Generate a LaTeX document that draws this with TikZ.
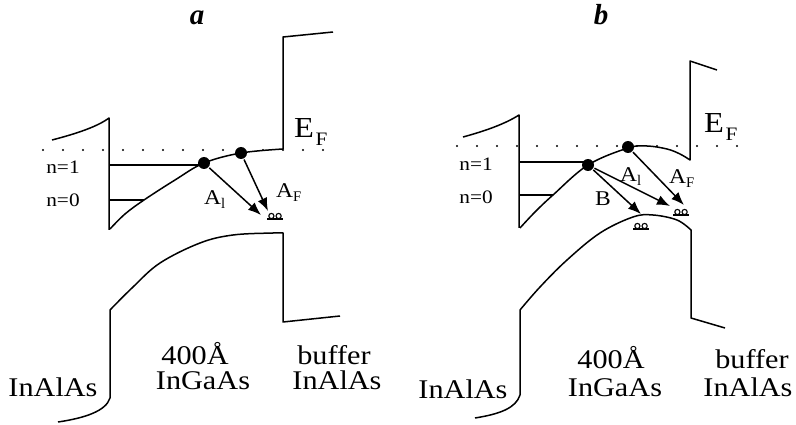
\documentclass[tikz,border=0pt]{standalone}
\usepackage{fontspec}
\setmainfont{Liberation Serif}
\newfontfamily\widefont[FakeStretch=1.12]{Liberation Serif}
\usetikzlibrary{arrows.meta}
\newcommand{\efsub}{\hspace{1.5pt}\raisebox{-8pt}{\fontsize{19}{19}\selectfont F}}
\begin{document}
\begin{tikzpicture}[x=1pt,y=-1pt,
  band/.style={line width=1.5pt, line join=round},
  fermi/.style={line width=2.4pt, dash pattern=on 0pt off 20pt, line cap=round},
  electron/.style={circle, fill=black, inner sep=0pt, minimum size=12pt},
  trans/.style={line width=1.5pt, -{Latex[length=13pt,width=10pt]}, shorten <=1pt},
  lbl/.style={font=\widefont\fontsize{27}{27}\selectfont, anchor=base, inner sep=0pt},
  toprow/.style={lbl, text depth=0pt},
  botrow/.style={lbl, text height=18pt},
  nlbl/.style={font=\widefont\fontsize{19}{19}\selectfont, anchor=base, inner sep=0pt},
  albl/.style={font=\widefont\fontsize{21}{21}\selectfont, anchor=base west, inner sep=0pt},
  eflbl/.style={font=\widefont\fontsize{29}{29}\selectfont, anchor=base west, inner sep=0pt},
  panel/.style={font=\fontsize{29}{29}\selectfont\bfseries\itshape, anchor=base, inner sep=0pt},
  hole/.pic={\draw[line width=1.5pt] (-8,3) -- (8,3);
             \draw[line width=1.1pt, fill=white] (-3.6,0) circle (2.6) (3.6,0) circle (2.6);}
]
\useasboundingbox (0,0) rectangle (796,425);

% ================= panel a =================
\node[panel] (pa) at (197,25) {a};
\draw[fermi] (43,150) -- (333,150);
\draw[band] (52,140) .. controls (75,134) and (97,127) .. (109,118) -- (109,230);
\draw[band] plot[smooth, tension=0.6] coordinates {(110,229) (125,214) (144,200) (175,180) (204,163) (241,153) (283,149)}
  -- (283,37) -- (333,32);
\draw[band] (109,165) -- (204,165);
\draw[band] (109,200) -- (144,200);
\draw[band] (58,422) .. controls (85,418) and (106,411) .. (110,398) -- (110,310)
  plot[smooth, tension=0.6] coordinates {(110,310) (133,287) (160,263) (200,243) (233,235) (273,233) (283,233)}
  -- (283,322) -- (340,316);
\node[electron] (ea1) at (204,163) {};
\node[electron] (ea2) at (241,153) {};
\coordinate (ha) at (275,216);
\pic at (ha) {hole};
\coordinate (ta1) at (261,215);
\coordinate (taf) at (268,211);
\draw[trans] (ea1) -- (ta1);
\draw[trans] (ea2) -- (taf);
\node[nlbl] (na1) at (63,174) {n=1};
\node[nlbl] (na0) at (63,207) {n=0};
\node[albl] (aa1) at (204,205) {A$_\mathrm{l}$};
\node[albl] (aaf) at (276,198) {A$_\mathrm{F}$};
\node[eflbl] (efa) at (294,138) {E\efsub};
\node[lbl] (wa1) at (53,396) {InAlAs};
\node[toprow] (wa2) at (195,364) {400Å};
\node[botrow] (wa3) at (203,389) {InGaAs};
\node[toprow] (wa4) at (334,364) {buffer};
\node[botrow] (wa5) at (337,389) {InAlAs};

% ================= panel b =================
\node[panel] (pb) at (601,25) {b};
\draw[fermi] (457,146) -- (743,146);
\draw[band] (463,137) .. controls (485,131) and (505,124) .. (519,115) -- (519,228);
\draw[band] plot[smooth, tension=0.6] coordinates {(520,228) (535,212) (553,195) (588,165) (628,148) (647,146) (667,149) (680,154) (690,160)}
  -- (690,61) -- (717,70);
\draw[band] (519,162) -- (588,162);
\draw[band] (519,195) -- (553,195);
\draw[band] (475,418) .. controls (500,414) and (516,408) .. (520,395) -- (520,310)
  plot[smooth, tension=0.6] coordinates {(520,310) (540,287) (567,260) (600,233) (633,217) (653,215) (677,220) (691,230)}
  -- (691,318) -- (725,328);
\node[electron] (eb1) at (588,165) {};
\node[electron] (eb2) at (628,147) {};
\coordinate (hb1) at (641,226);
\coordinate (hb2) at (681,212);
\pic at (hb1) {hole};
\pic at (hb2) {hole};
\coordinate (tbb) at (641,214);
\coordinate (tb1) at (670,206);
\coordinate (tbf) at (684,205);
\draw[trans] (eb1) -- (tbb);
\draw[trans] (eb1) -- (tb1);
\draw[trans] (eb2) -- (tbf);
\node[nlbl] (nb1) at (476,171) {n=1};
\node[nlbl] (nb0) at (476,204) {n=0};
\node[albl] (bb) at (595,206) {B};
\node[albl] (ab1) at (620,182) {A$_\mathrm{l}$};
\node[albl] (abf) at (669,184) {A$_\mathrm{F}$};
\node[eflbl] (efb) at (704,133) {E\efsub};
\node[lbl] (wb1) at (463,398) {InAlAs};
\node[toprow] (wb2) at (611,368) {400Å};
\node[botrow] (wb3) at (615,396) {InGaAs};
\node[toprow] (wb4) at (752,368) {buffer};
\node[botrow] (wb5) at (748,396) {InAlAs};
\end{tikzpicture}
\end{document}
